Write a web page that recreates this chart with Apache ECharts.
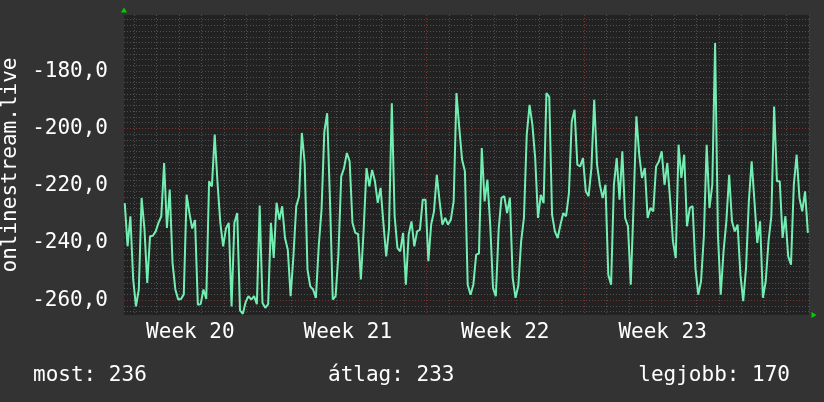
<!DOCTYPE html>
<html><head><meta charset="utf-8">
<script src="https://cdn.jsdelivr.net/npm/echarts@6/dist/echarts.min.js"></script>
<style>html,body{margin:0;padding:0;background:#333333;}#c{width:824px;height:402px;}</style>
</head><body><div id="c"></div>
<script>
// time is in hours, relative to Monday 00:00 of "Week 21"
const startHour = -154;
const stepHours = 3;
const values = [
-226.1,-241.2,-230.7,-252.8,-262.2,-256.3,-224.3,-235,-254,-237.7,
-237.5,-236,-233,-230.7,-212.1,-234.8,-221.4,-247,-256.3,-259.8,
-259.6,-258,-223.2,-229.6,-235,-232,-261.6,-261.4,-256.3,-259.6,
-218.5,-220.3,-202.2,-219.1,-233,-241.2,-235,-233,-262.2,-233,
-229.6,-263.6,-264.8,-260.7,-258.6,-259.8,-258.6,-261.4,
-227,-261,-262.7,-261.4,-233,-245.3,-226,-231.9,-227.2,-238.3,
-242.4,-258.6,-244.7,-227.2,-223.8,-201.6,-212.1,-249.3,-255.2,-256.3,
-259.2,-241.2,-228.4,-201.1,-194.7,-224.9,-259.8,-258.6,-244.1,-216.8,
-213.9,-208.6,-211.5,-233,-236.5,-236.9,-252.8,-235,-213.9,-220.3,
-214.5,-218.5,-226,-220.8,-233,-244.7,-235,-191.2,-230.7,
-241.8,-243,-236.5,-254.6,-237.1,-232.5,-241.2,-236,-235.4,-224.9,
-224.9,-246.4,-233.6,-229,-216.2,-225.5,-233.6,-231.3,-233.6,-231.9,
-225.5,-187.7,-199.9,-211,-215,-254.6,-258.1,-254.6,-244.1,-243.7,
-206.9,-225.5,-217.9,-233.6,-255.8,-258.6,-235.4,-224.3,-223.7,-229.6,
-224.2,-252.2,-259.2,-255,-239.5,-231.3,-202.2,-191.8,-198.7,
-210.4,-231.3,-223.2,-226.1,-187.7,-189,-230.1,-236,-238.3,-233.6,
-229.6,-230.7,-222.6,-197.6,-193.5,-212.7,-213.3,-210.4,-222,-223.7,
-213.9,-190,-212.7,-219.7,-224.3,-219.7,-251.1,-254.6,-219.7,-210.4,
-224.9,-208,-231.3,-234.2,-254.6,-226.7,-195.8,-209.2,-217.3,-213.9,
-231.3,-227.8,-229,-213.3,-211.6,-208,-219.7,-212.1,-224.9,-239.5,
-245.3,-205.7,-217.3,-209.2,-234.2,-227.8,-227.2,-248.8,-258.1,-253.4,
-237.7,-205.7,-227.8,-219.7,-170.2,-237.1,-258.1,-243,-232.5,-216.2,
-232.5,-236,-233.6,-251.1,-260.4,-248.8,-225.5,-211.5,-225.5,-240,
-232.5,-259.2,-253.4,-239.5,-230.7,-192.4,-218.5,-218.5,-238.3,-230.7,
-244.7,-247.6,-219.7,-209.2,-224.3,-229,-222,-236.5
];
const xMinHour = -154.8;
const xMaxHour = 576.2;
const weekStarts = [0, 168, 336, 504];
const weekCenters = [-84, 84, 252, 420];
const weekLabels = ['Week 20', 'Week 21', 'Week 22', 'Week 23'];
const yMin = -265.2;
const yMax = -160.4;
const yMajorTicks = [-260, -240, -220, -200, -180];
const yAxisTitle = 'onlinestream.live';
const summaryLabels = ['most: 236', 'átlag: 233', 'legjobb: 170'];

const FONT = 'DejaVu Sans Mono';
const dayTicks = [];
for (let h = -144; h <= 576; h += 24) if (weekStarts.indexOf(h) < 0) dayTicks.push(h);
const yMinorTicks = [];
for (let v = -264; v <= -162; v += 2) if (yMajorTicks.indexOf(v) < 0) yMinorTicks.push(v);

const seriesData = values.map((v, i) => [startHour + i * stepHours, v]);
const minorLine = { color: '#505050', width: 1, type: [1, 2] };
const majorLine = { color: '#7a3434', width: 1, type: [1, 2] };

const chart = echarts.init(document.getElementById('c'), null, { renderer: 'canvas' });
chart.setOption({
  animation: false,
  backgroundColor: '#333333',
  textStyle: { fontFamily: FONT },
  grid: { left: 124, top: 15, right: 15, bottom: 87, show: true, backgroundColor: '#222222', borderWidth: 0, containLabel: false, outerBoundsMode: 'none' },
  title: [
    { text: summaryLabels[0], left: 33, top: 365, padding: 0, textStyle: { color: '#fff', fontFamily: FONT, fontSize: 21, fontWeight: 'normal' } },
    { text: summaryLabels[1], left: 328, top: 365, padding: 0, textStyle: { color: '#fff', fontFamily: FONT, fontSize: 21, fontWeight: 'normal' } },
    { text: summaryLabels[2], right: 34, top: 365, padding: 0, textStyle: { color: '#fff', fontFamily: FONT, fontSize: 21, fontWeight: 'normal' } }
  ],
  xAxis: [
    {
      type: 'value', position: 'bottom', min: xMinHour, max: xMaxHour,
      axisLine: { show: true, onZero: false, symbol: ['none', 'triangle'], symbolSize: [6, 5], symbolOffset: [0, 5], lineStyle: { color: '#00d000', width: 0 } },
      axisTick: { show: false, customValues: dayTicks },
      axisLabel: {
        show: true, customValues: weekCenters, margin: 7, color: '#ffffff', fontFamily: FONT, fontSize: 21,
        formatter: v => weekLabels[weekCenters.indexOf(v)] || ''
      },
      splitLine: { show: true, lineStyle: minorLine }
    },
    {
      type: 'value', position: 'top', min: xMinHour, max: xMaxHour,
      axisLine: { show: false },
      axisTick: { show: false, customValues: weekStarts },
      axisLabel: { show: false },
      splitLine: { show: true, lineStyle: majorLine }
    }
  ],
  yAxis: [
    {
      type: 'value', position: 'left', min: yMin, max: yMax,
      name: yAxisTitle, nameLocation: 'middle', nameRotate: 90, nameGap: 94,
      nameTextStyle: { color: '#ffffff', fontFamily: FONT, fontSize: 21 },
      axisLine: { show: true, onZero: false, symbol: ['none', 'triangle'], symbolSize: [6, 5], symbolOffset: [0, 5], lineStyle: { color: '#00d000', width: 0 } },
      axisTick: { show: false, customValues: yMajorTicks },
      axisLabel: {
        show: true, customValues: yMajorTicks, margin: 16, color: '#ffffff', fontFamily: FONT, fontSize: 21,
        padding: [5, 0, 0, 0],
        formatter: v => v.toFixed(1).replace('.', ',')
      },
      splitLine: { show: true, lineStyle: majorLine }
    },
    {
      type: 'value', position: 'right', min: yMin, max: yMax,
      axisLine: { show: false },
      axisTick: { show: false, customValues: yMinorTicks },
      axisLabel: { show: false },
      splitLine: { show: true, lineStyle: minorLine }
    }
  ],
  series: [{
    type: 'line', xAxisIndex: 0, yAxisIndex: 0, data: seriesData,
    showSymbol: false, symbol: 'none', clip: true,
    lineStyle: { color: '#73eeb3', width: 2 }, z: 5
  }]
});
</script></body></html>
